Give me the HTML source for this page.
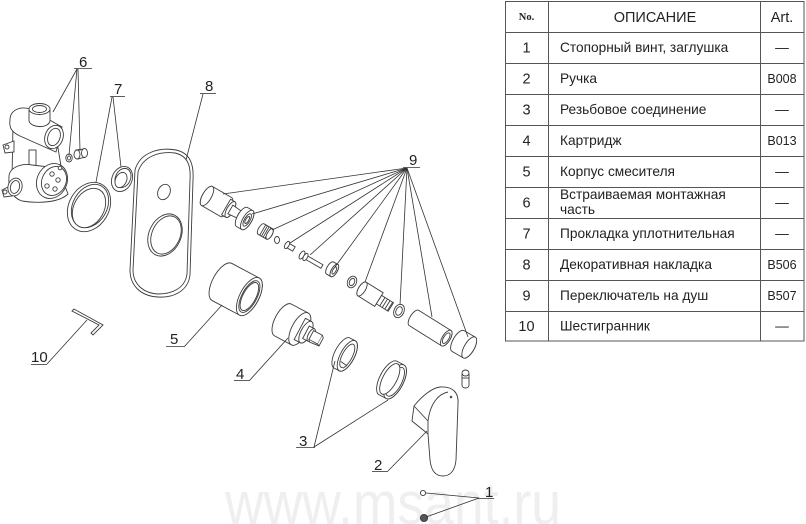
<!DOCTYPE html>
<html><head><meta charset="utf-8">
<style>
html,body{margin:0;padding:0;background:#fff;}
svg{display:block;}
.p{fill:#fff;stroke:#3c3c3c;stroke-width:0.9;}
.l{fill:none;stroke:#333;stroke-width:0.8;}
.t{font-family:"Liberation Sans",sans-serif;fill:#222;}
.tb{fill:none;stroke:#555;stroke-width:1;}
</style></head>
<body>
<svg width="806" height="524" viewBox="0 0 806 524" xmlns="http://www.w3.org/2000/svg">
<!-- watermark -->
<text x="225" y="524" font-family="Liberation Sans, sans-serif" font-size="60" fill="#efefef" textLength="336" lengthAdjust="spacingAndGlyphs">www.msant.ru</text>

<!-- TABLE -->
<g class="tb">
<rect x="505.5" y="1.5" width="298.5" height="339.5"/>
<line x1="548.5" y1="1" x2="548.5" y2="341"/>
<line x1="760.5" y1="1" x2="760.5" y2="341"/>
<line x1="505" y1="32.5" x2="804" y2="32.5"/>
<line x1="505" y1="63.5" x2="804" y2="63.5"/>
<line x1="505" y1="94.5" x2="804" y2="94.5"/>
<line x1="505" y1="125.5" x2="804" y2="125.5"/>
<line x1="505" y1="156.5" x2="804" y2="156.5"/>
<line x1="505" y1="187.5" x2="804" y2="187.5"/>
<line x1="505" y1="218.5" x2="804" y2="218.5"/>
<line x1="505" y1="249.5" x2="804" y2="249.5"/>
<line x1="505" y1="280.5" x2="804" y2="280.5"/>
<line x1="505" y1="311.5" x2="804" y2="311.5"/>
</g>
<g class="t" font-size="13.7">
<text x="526.5" y="20" text-anchor="middle" font-family="Liberation Serif, serif" font-size="10.5" font-weight="bold">No.</text>
<text x="655" y="22" text-anchor="middle" font-size="14.5">ОПИСАНИЕ</text>
<text x="782" y="22" text-anchor="middle" font-size="14.5">Art.</text>

<text x="526.5" y="52.5" text-anchor="middle" font-size="14.5">1</text>
<text x="560" y="52">Стопорный винт, заглушка</text>
<text x="782" y="52" text-anchor="middle">—</text>

<text x="526.5" y="83.5" text-anchor="middle" font-size="14.5">2</text>
<text x="560" y="83">Ручка</text>
<text x="782" y="83" text-anchor="middle" font-size="12.5">B008</text>

<text x="526.5" y="114.5" text-anchor="middle" font-size="14.5">3</text>
<text x="560" y="114">Резьбовое соединение</text>
<text x="782" y="114" text-anchor="middle">—</text>

<text x="526.5" y="145.5" text-anchor="middle" font-size="14.5">4</text>
<text x="560" y="145">Картридж</text>
<text x="782" y="145" text-anchor="middle" font-size="12.5">B013</text>

<text x="526.5" y="176.5" text-anchor="middle" font-size="14.5">5</text>
<text x="560" y="176">Корпус смесителя</text>
<text x="782" y="176" text-anchor="middle">—</text>

<text x="526.5" y="207.5" text-anchor="middle" font-size="14.5">6</text>
<text x="560" y="199">Встраиваемая монтажная</text>
<text x="560" y="214">часть</text>
<text x="782" y="207" text-anchor="middle">—</text>

<text x="526.5" y="238.5" text-anchor="middle" font-size="14.5">7</text>
<text x="560" y="238">Прокладка уплотнительная</text>
<text x="782" y="238" text-anchor="middle">—</text>

<text x="526.5" y="269.5" text-anchor="middle" font-size="14.5">8</text>
<text x="560" y="269">Декоративная накладка</text>
<text x="782" y="269" text-anchor="middle" font-size="12.5">B506</text>

<text x="526.5" y="300.5" text-anchor="middle" font-size="14.5">9</text>
<text x="560" y="300">Переключатель на душ</text>
<text x="782" y="300" text-anchor="middle" font-size="12.5">B507</text>

<text x="526.5" y="331" text-anchor="middle" font-size="14.5">10</text>
<text x="560" y="330.5">Шестигранник</text>
<text x="782" y="330.5" text-anchor="middle">—</text>
</g>

<!-- PART 6 body -->
<g class="p">
 <path d="M13,124 L57,142 L62,172 L12,180 Z"/>
 <path d="M3,145 L14,141 L14,152 L5,153 Z"/>
 <circle cx="7" cy="147" r="2"/>
 <path d="M10,120 C10,110 20,106 30,109 L62,127 L56,152 L20,136 C11,132 9,127 10,120 Z"/>
 <path d="M29,110 L29,121 C31,128 48,129 50,121 L50,110"/>
 <ellipse cx="39.5" cy="109" rx="10.5" ry="5.5"/>
 <ellipse cx="39.5" cy="109" rx="7" ry="3.5"/>
 <ellipse cx="54" cy="137" rx="9" ry="12" transform="rotate(20 54 137)"/>
 <ellipse cx="54" cy="137" rx="6" ry="9" transform="rotate(20 54 137)"/>
 <rect x="29" y="150" width="7" height="17"/>
 <path d="M2,190 L10,186 L12,196 L4,197 Z"/>
 <circle cx="5" cy="192" r="2"/>
 <path d="M9,176 C10,167 22,163 32,165 L58,168 L68,194 C60,202 40,204 22,201 C12,198 8,188 9,176 Z"/>
 <ellipse cx="15" cy="187" rx="7" ry="9" transform="rotate(15 15 187)"/>
 <ellipse cx="15" cy="187" rx="4.5" ry="6.5" transform="rotate(15 15 187)"/>
 <ellipse cx="52" cy="181" rx="15" ry="18" transform="rotate(25 52 181)"/>
 <ellipse cx="54" cy="181" rx="12" ry="15" transform="rotate(25 54 181)"/>
 <circle cx="52" cy="174" r="2.2"/>
 <circle cx="58" cy="180" r="2.2"/>
 <circle cx="47" cy="186" r="2.2"/>
 <circle cx="55" cy="189" r="2.2"/>
 <circle cx="60" cy="168" r="1.8"/>
 <!-- small parts 6 -->
 <ellipse cx="69" cy="158" rx="3.2" ry="4"/>
 <ellipse cx="69" cy="158" rx="1.5" ry="2"/>
 <path d="M76,150 L84,149 L85,157 L78,159 Z"/>
 <ellipse cx="77" cy="154.5" rx="3" ry="4.5"/>
 <ellipse cx="84.5" cy="153" rx="3" ry="4.5"/>
</g>

<!-- PART 7 rings -->
<g class="p">
 <ellipse cx="89" cy="207" rx="20" ry="26" transform="rotate(30 89 207)"/>
 <ellipse cx="90" cy="206" rx="17" ry="23" transform="rotate(30 90 206)"/>
 <ellipse cx="89" cy="208" rx="15" ry="21" transform="rotate(30 89 208)"/>
 <ellipse cx="122" cy="179" rx="10" ry="13" transform="rotate(25 122 179)"/>
 <ellipse cx="123" cy="178" rx="7.5" ry="10" transform="rotate(25 123 178)"/>
 <ellipse cx="121" cy="180" rx="5.5" ry="8" transform="rotate(25 121 180)"/>
</g>

<!-- PART 8 plate -->
<g class="p">
 <path d="M135,170 C140,152 160,147 176,150 C190,153 194,164 193,180 L190,275 C188,292 172,298 158,297 C140,296 130,285 130,270 Z"/>
 <path d="M138,172 C143,156 160,151 175,153 C188,156 191,166 190,180 L187,274 C185,289 171,294 158,294 C142,293 133,283 133,270 Z"/>
 <ellipse cx="164" cy="192" rx="6" ry="8" transform="rotate(25 164 192)"/>
 <ellipse cx="165" cy="235" rx="16" ry="22" transform="rotate(25 165 235)"/>
 <ellipse cx="166" cy="235" rx="14" ry="20" transform="rotate(25 166 235)"/>
</g>

<!-- PART 9 switch assembly -->
<g class="p">
 <g transform="translate(207,196) rotate(30)">
  <path d="M0,-11 L22,-11 A4.5,11 0 0 1 22,11 L0,11 A4.5,11 0 0 1 0,-11 Z"/>
  <path d="M22,-9 L27,-9 A3.5,9 0 0 1 27,9 L22,9 Z"/>
  <ellipse cx="27" cy="0" rx="3.5" ry="9"/>
  <path d="M27,-5 L38,-4 L38,4 L27,5 Z"/>
  <ellipse cx="38" cy="0" rx="1.8" ry="4"/>
  <ellipse cx="0" cy="0" rx="4.5" ry="11"/>
 </g>
 <g transform="translate(242,217) rotate(30)">
  <path d="M0,-11 L6,-11 A4.5,11 0 0 1 6,11 L0,11 A4.5,11 0 0 1 0,-11 Z"/>
  <ellipse cx="6" cy="0" rx="4.5" ry="11"/>
  <ellipse cx="6" cy="0" rx="2.8" ry="7"/>
  <ellipse cx="6" cy="0" rx="1.5" ry="4"/>
 </g>
 <g transform="translate(261,229) rotate(30)">
  <path d="M0,-6 L10,-6 A2.5,6 0 0 1 10,6 L0,6 A2.5,6 0 0 1 0,-6 Z"/>
  <path d="M2,-6 L2,6 M4,-6 L4,6 M6,-6 L6,6 M8,-6 L8,6" />
  <ellipse cx="10" cy="0" rx="2.5" ry="6"/>
 </g>
 <ellipse cx="277" cy="240" rx="2.5" ry="3.5"/>
 <g transform="translate(287,245) rotate(30)">
  <path d="M0,-2.5 L8,-2.5 L8,2.5 L0,2.5 Z"/>
  <ellipse cx="0" cy="0" rx="2" ry="4"/>
 </g>
 <g transform="translate(302,255) rotate(30)">
  <path d="M0,-2 L23,-2 L23,2 L0,2 Z"/>
  <ellipse cx="0" cy="0" rx="2.2" ry="4.5"/>
  <ellipse cx="4" cy="0" rx="2" ry="4"/>
 </g>
 <g transform="translate(330,268) rotate(30)">
  <path d="M0,-7 L5,-7 A3,7 0 0 1 5,7 L0,7 A3,7 0 0 1 0,-7 Z"/>
  <ellipse cx="5" cy="0" rx="3" ry="7"/>
  <ellipse cx="5" cy="0" rx="1.6" ry="4"/>
 </g>
 <ellipse cx="352" cy="282" rx="4.5" ry="6" transform="rotate(25 352 282)"/>
 <ellipse cx="352" cy="282" rx="2.5" ry="3.8" transform="rotate(25 352 282)"/>
 <g transform="translate(362,289) rotate(32)">
  <path d="M0,-8 L20,-8 L20,8 L0,8 A3.5,8 0 0 1 0,-8 Z"/>
  <ellipse cx="0" cy="0" rx="3.5" ry="8"/>
  <path d="M20,-5 L34,-5 L34,5 L20,5 Z"/>
  <path d="M24,-5 L24,5 M27,-5 L27,5 M30,-5 L30,5 M33,-5 L33,5"/>
 </g>
 <ellipse cx="399" cy="311" rx="5" ry="7" transform="rotate(25 399 311)"/>
 <ellipse cx="399" cy="311" rx="3" ry="4.5" transform="rotate(25 399 311)"/>
 <g transform="translate(414,318) rotate(32)">
  <path d="M0,-9 L38,-9 A4,9 0 0 1 38,9 L0,9 A4,9 0 0 1 0,-9 Z"/>
  <ellipse cx="38" cy="0" rx="4" ry="9"/>
  <ellipse cx="38" cy="0" rx="2.6" ry="6"/>
 </g>
 <g transform="translate(458,341) rotate(30)">
  <path d="M0,-12 L13,-12 A5,12 0 0 1 13,12 L0,12 A5,12 0 0 1 0,-12 Z"/>
  <ellipse cx="13" cy="0" rx="5" ry="12"/>
 </g>
 <path d="M462,374 L462,385 C462,389 469,389 469,385 L469,374"/>
 <ellipse cx="465.5" cy="373" rx="3.5" ry="3"/>
 <line x1="462" y1="378" x2="469" y2="378"/>
</g>

<!-- PART 5 sleeve -->
<g class="p" transform="translate(222,282) rotate(28)">
 <path d="M0,-21 L31,-21 A9.5,21 0 0 1 31,21 L0,21 A9.5,21 0 0 1 0,-21 Z"/>
 <ellipse cx="31" cy="0" rx="9.5" ry="21"/>
 <ellipse cx="31" cy="0" rx="7.5" ry="17.5"/>
 <ellipse cx="31" cy="0" rx="6.5" ry="15.5"/>
</g>

<!-- PART 4 cartridge -->
<g class="p" transform="translate(283,320) rotate(28)">
 <path d="M0,-18 L19,-18 A8,18 0 0 1 19,18 L0,18 A8,18 0 0 1 0,-18 Z"/>
 <ellipse cx="19" cy="0" rx="8" ry="18"/>
 <path d="M19,-12 L26,-12 A5,12 0 0 1 26,12 L19,12 Z"/>
 <ellipse cx="26" cy="0" rx="5" ry="12"/>
 <path d="M26,-7 L32,-7 L32,7 L26,7 Z"/>
 <ellipse cx="32" cy="0" rx="3" ry="7"/>
 <path d="M32,-5 L42,-5 L42,5 L32,5 Z"/>
 <path d="M42,-5 L44,-3 L44,6 L42,5 M32,5 L34,7 L44,6"/>
</g>

<!-- PART 3 rings -->
<g class="p">
 <g transform="translate(342,353) rotate(28)">
  <path d="M0,-17 L6,-17 A7,17 0 0 1 6,17 L0,17 A7,17 0 0 1 0,-17 Z"/>
  <ellipse cx="6" cy="0" rx="7" ry="17"/>
  <ellipse cx="6" cy="0" rx="5" ry="13"/>
  <path d="M3,8 L10,9 L8,13"/>
 </g>
 <g transform="translate(388,378) rotate(28)">
  <path d="M0,-19 L8,-19 A8,19 0 0 1 8,19 L0,19 A8,19 0 0 1 0,-19 Z"/>
  <ellipse cx="8" cy="0" rx="8" ry="19"/>
  <ellipse cx="8" cy="0" rx="6.5" ry="16"/>
  <ellipse cx="2" cy="0" rx="7" ry="17"/>
 </g>
</g>

<!-- PART 2 handle -->
<g class="p">
 <path d="M412,421 L414,406 C422,396 432,388 440,387 C452,386 459,392 458,404 L456,460 C455,472 449,476 443,476 C435,476 431,470 430,460 L428,434 Z"/>
 <path d="M414,406 L428,421 L428,434"/>
 <path d="M428,421 C430,404 438,394 448,392"/>
 <circle cx="451" cy="397" r="0.8"/>
</g>

<!-- PART 1 screws -->
<g class="p">
 <circle cx="423" cy="493" r="2.6"/>
 <circle cx="424" cy="518" r="3.6" fill="#555"/>
</g>

<!-- PART 10 hex key -->
<g class="p">
 <path d="M72,311 L74,309 L103,325 L93,335 L91,333 L99,325 Z"/>
</g>

<!-- LABELS & LEADERS -->
<g class="l">
 <line x1="74" y1="68.5" x2="92" y2="68.5"/>
 <line x1="77" y1="69" x2="53" y2="112"/>
 <line x1="77" y1="69" x2="69" y2="155"/>
 <line x1="78" y1="69" x2="80" y2="151"/>

 <line x1="110" y1="96.5" x2="125" y2="96.5"/>
 <line x1="112" y1="97" x2="96" y2="182"/>
 <line x1="113" y1="97" x2="121" y2="167"/>

 <line x1="200" y1="93.5" x2="216" y2="93.5"/>
 <line x1="203" y1="94" x2="186" y2="160"/>

 <line x1="403" y1="167.5" x2="420" y2="167.5"/>
 <line x1="407" y1="168" x2="223" y2="194"/>
 <line x1="407" y1="168" x2="252" y2="214"/>
 <line x1="407" y1="168" x2="272" y2="230"/>
 <line x1="407" y1="168" x2="290" y2="243"/>
 <line x1="407" y1="168" x2="310" y2="255"/>
 <line x1="407" y1="168" x2="335" y2="267"/>
 <line x1="407" y1="168" x2="365" y2="282"/>
 <line x1="407" y1="168" x2="400" y2="305"/>
 <line x1="407" y1="168" x2="432" y2="317"/>
 <line x1="407" y1="168" x2="468" y2="337"/>

 <line x1="166" y1="346.5" x2="184" y2="346.5"/>
 <line x1="184" y1="347" x2="222" y2="305"/>

 <line x1="234" y1="380.5" x2="249" y2="380.5"/>
 <line x1="249" y1="381" x2="288" y2="338"/>

 <line x1="296" y1="447.5" x2="315" y2="447.5"/>
 <line x1="314" y1="447" x2="335" y2="361"/>
 <line x1="314" y1="447" x2="388" y2="400"/>

 <line x1="372" y1="471.5" x2="388" y2="471.5"/>
 <line x1="388" y1="471" x2="427" y2="431"/>

 <line x1="477" y1="498.5" x2="494" y2="498.5"/>
 <line x1="479" y1="498" x2="426" y2="493"/>
 <line x1="479" y1="498" x2="426" y2="517"/>

 <line x1="31" y1="364.5" x2="47" y2="364.5"/>
 <line x1="47" y1="364" x2="87" y2="320"/>
</g>
<g class="t" font-size="15">
 <text x="79" y="67">6</text>
 <text x="114" y="94">7</text>
 <text x="205" y="91">8</text>
 <text x="409" y="165">9</text>
 <text x="170" y="344">5</text>
 <text x="236" y="379">4</text>
 <text x="299" y="446">3</text>
 <text x="374" y="470">2</text>
 <text x="485" y="497">1</text>
 <text x="31" y="362">10</text>
</g>
</svg>
</body></html>
